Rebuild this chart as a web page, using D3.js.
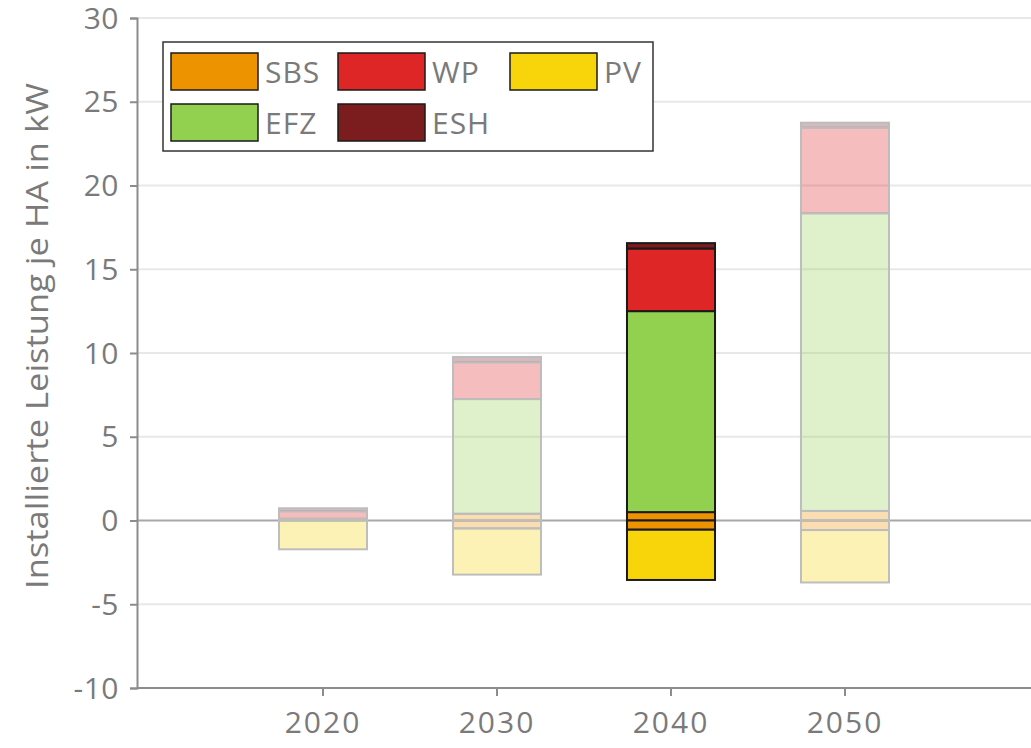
<!DOCTYPE html>
<html><head><meta charset="utf-8">
<script src="https://cdn.jsdelivr.net/npm/d3@7"></script>
<style>
body{margin:0;background:#fff;}
text{font-family:"Open Sans",sans-serif;fill:#7a7a7a;}
</style></head>
<body><svg id="c" width="1031" height="748"></svg>
<script>
const years = ["2020","2030","2040","2050"];
const sbsPos = [0, 0.4, 0.5, 0.57];
const efz = [0.1, 6.85, 12.0, 17.77];
const wp = [0.45, 2.19, 3.74, 5.11];
const esh = [0.18, 0.32, 0.32, 0.3];
const sbsNeg = [0, -0.47, -0.55, -0.57];
const pv = [-1.72, -2.76, -3.0, -3.13];
const highlighted = "2040";
const yTicks = [-10,-5,0,5,10,15,20,25,30];
const legendItems = [["SBS","#EE9300"],["WP","#DE2626"],["PV","#F8D50A"],["EFZ","#92D050"],["ESH","#7B1C1E"]];
const colors = {SBS:"#EE9300",WP:"#DE2626",PV:"#F8D50A",EFZ:"#92D050",ESH:"#7B1C1E"};

const svg = d3.select("#c");
const x = d3.scaleBand().domain(years).range([137,1031]).paddingInner(0.494).paddingOuter(0.816);
const y = d3.scaleLinear().domain([-10,30]).range([688,18]);

// gridlines
svg.append("g").selectAll("line").data(yTicks.filter(t=>t!==-10 && t!==0)).join("line")
  .attr("x1",137).attr("x2",1031).attr("y1",d=>y(d)).attr("y2",d=>y(d))
  .attr("stroke","#e8e8e8").attr("stroke-width",2);

// zero line
svg.append("line").attr("x1",137).attr("x2",1031).attr("y1",y(0)).attr("y2",y(0))
  .attr("stroke","#a8a8a8").attr("stroke-width",2);

// bars
const stacks = [];
years.forEach((yr,i)=>{
  let top=0;
  [["SBS",sbsPos[i]],["EFZ",efz[i]],["WP",wp[i]],["ESH",esh[i]]].forEach(([k,v])=>{
    stacks.push({yr,k,y0:top,y1:top+v}); top+=v;
  });
  let bot=0;
  [["SBS",sbsNeg[i]],["PV",pv[i]]].forEach(([k,v])=>{
    stacks.push({yr,k,y0:bot,y1:bot+v}); bot+=v;
  });
});
const bars = svg.append("g");
stacks.sort((a,b)=>(a.yr===highlighted)-(b.yr===highlighted));
stacks.filter(d=>d.y1!==d.y0).forEach(d=>{
  const hi = d.yr===highlighted;
  bars.append("rect")
    .attr("x",x(d.yr)).attr("width",x.bandwidth())
    .attr("y",y(Math.max(d.y0,d.y1))).attr("height",Math.abs(y(d.y0)-y(d.y1)))
    .attr("fill",colors[d.k]).attr("fill-opacity",hi?1:0.3)
    .attr("stroke",hi?"#1a1a1a":"#bdbdbd").attr("stroke-width",2);
});

const fmt = d => String(d); // plain hyphen minus as in reference

// y axis
const ya = svg.append("g").attr("transform","translate(137,0)")
  .call(d3.axisLeft(y).tickValues(yTicks).tickSize(7).tickPadding(11).tickFormat(fmt));
ya.select(".domain").attr("stroke","#8c8c8c").attr("stroke-width",2);
ya.selectAll(".tick line").attr("stroke","#8c8c8c").attr("stroke-width",2);
ya.selectAll("text").attr("font-size",30).attr("fill","#7a7a7a")
  .style("font-family","Open Sans").style("letter-spacing","0.5px").attr("dy","0.34em");

// x axis
const xa = svg.append("g").attr("transform","translate(0,688)")
  .call(d3.axisBottom(x).tickSize(8).tickSizeOuter(0).tickPadding(16));
xa.select(".domain").attr("stroke","#8c8c8c").attr("stroke-width",2).attr("d","M137,0H1031");
xa.selectAll(".tick line").attr("stroke","#8c8c8c").attr("stroke-width",2);
xa.selectAll("text").attr("font-size",30).attr("fill","#7a7a7a")
  .style("font-family","Open Sans").style("letter-spacing","2px");

// y label
svg.append("text").attr("transform","translate(48,336) rotate(-90)")
  .attr("text-anchor","middle").attr("font-size",31)
  .attr("textLength",506).attr("lengthAdjust","spacingAndGlyphs")
  .text("Installierte Leistung je HA in kW");

// legend
const lg = svg.append("g");
lg.append("rect").attr("x",163).attr("y",42).attr("width",490).attr("height",109)
  .attr("fill","#fff").attr("stroke","#333").attr("stroke-width",1.5);
const colX=[171,338,510], rowY=[53,104];
legendItems.forEach(([name,c],i)=>{
  const cx=colX[i%3], cy=rowY[Math.floor(i/3)];
  lg.append("rect").attr("x",cx).attr("y",cy).attr("width",87).attr("height",37)
    .attr("fill",c).attr("stroke","#1a1a1a").attr("stroke-width",1.5);
  lg.append("text").attr("x",cx+94).attr("y",cy+30).attr("font-size",30)
    .style("letter-spacing","1px").text(name);
});
</script></body></html>
